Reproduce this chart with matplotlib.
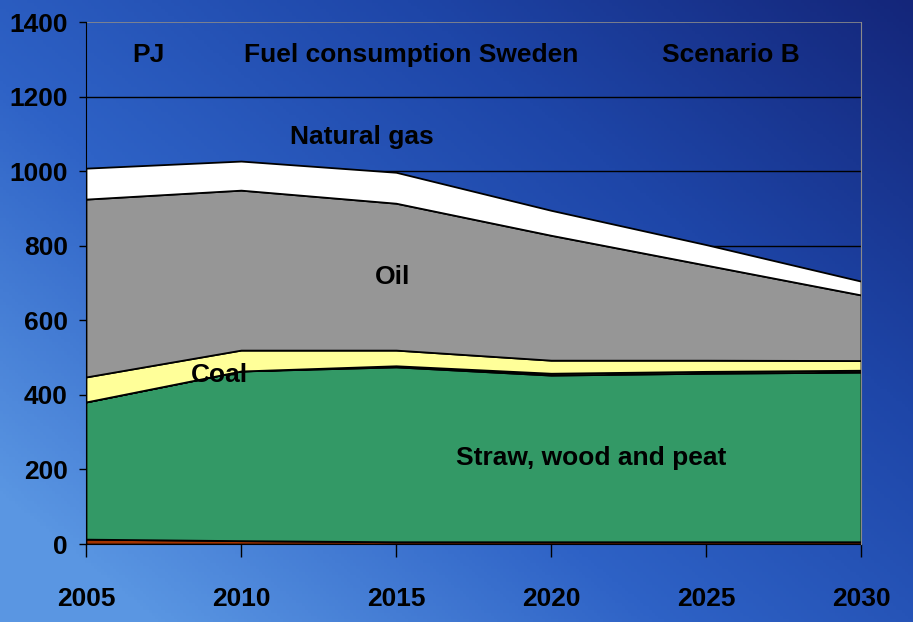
import numpy as np
import matplotlib
matplotlib.use("Agg")
import matplotlib.pyplot as plt
from matplotlib.colors import LinearSegmentedColormap

plt.rcParams['font.family'] = ['Liberation Sans Narrow', 'Liberation Sans', 'DejaVu Sans']
plt.rcParams['font.weight'] = 'bold'

years = [2005, 2010, 2015, 2020, 2025, 2030]
other = [13, 9, 6, 6, 6, 6]
straw_wood_peat = [368, 455, 469, 447, 452, 455]
minor = [0, 0, 3, 5, 5, 5]
coal = [67, 56, 42, 35, 30, 26]
oil = [477, 429, 394, 335, 255, 176]
natural_gas = [83, 78, 83, 67, 55, 37]

colors = ['#a33300', '#339966', '#ffff99', '#ffff99', '#969696', '#ffffff']

fig = plt.figure(figsize=(9.13, 6.22), dpi=100)

# blue slide background, lighter towards bottom-left
bg = fig.add_axes([0, 0, 1, 1], zorder=-10)
xx, yy = np.meshgrid(np.linspace(0, 1, 300), np.linspace(0, 1, 200))
t = np.clip((1 - xx) * 0.6 + yy * 0.5, 0, 1)
cmap = LinearSegmentedColormap.from_list('slide', ['#14267a', '#1e46a8', '#2e62c6', '#5a96e2'])
bg.imshow(t, cmap=cmap, aspect='auto', extent=[0, 1, 0, 1], origin='upper')
bg.axis('off')

ax = fig.add_axes([86 / 913, 1 - 544 / 622, 775 / 913, 522 / 622])
ax.patch.set_alpha(0)

ax.stackplot(years, other, straw_wood_peat, minor, coal, oil, natural_gas,
             colors=colors, edgecolor='black', linewidth=1.3, zorder=3)

ax.set_xlim(2005, 2030)
ax.set_ylim(0, 1400)
ax.set_xticks(years)
ax.set_yticks(range(0, 1401, 200))
for y in range(200, 1201, 200):
    ax.axhline(y, color='black', lw=1.0, zorder=1)
ax.axhline(1400, color='#8a8a8a', lw=1.2, zorder=1)

ax.spines['top'].set_visible(False)
ax.spines['right'].set_color('#8a8a8a')
ax.spines['left'].set_color('black')
ax.spines['bottom'].set_color('black')
ax.spines['right'].set_zorder(4)

ax.tick_params(axis='y', length=5, width=1, pad=8, labelsize=19, direction='out')
ax.tick_params(axis='x', length=9, width=1, pad=22, labelsize=19, direction='out')
for lbl in ax.get_xticklabels() + ax.get_yticklabels():
    lbl.set_fontweight('bold')

tk = dict(fontsize=19, fontweight='bold', ha='center', va='center', color='black', zorder=5)
ax.text(2007.0, 1311, 'PJ', **tk)
ax.text(2015.5, 1311, 'Fuel consumption Sweden', **tk)
ax.text(2025.8, 1311, 'Scenario B', **tk)
ax.text(2013.9, 1091, 'Natural gas', **tk)
ax.text(2014.9, 716, 'Oil', **tk)
ax.text(2009.3, 453, 'Coal', **tk)
ax.text(2021.3, 230, 'Straw, wood and peat', **tk)

fig.savefig('out.png', dpi=100)
